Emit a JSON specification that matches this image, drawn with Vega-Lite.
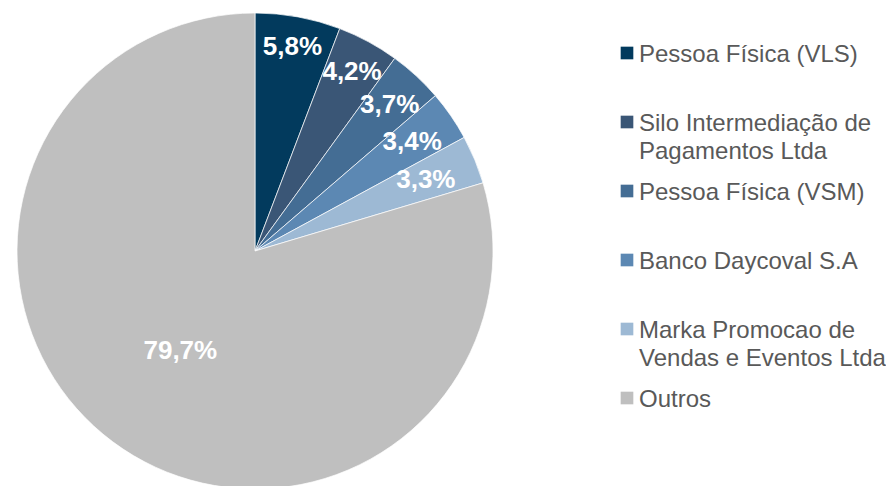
{
  "$schema": "https://vega.github.io/schema/vega-lite/v6.json",
  "padding": 0,
  "background": "white",
  "config": {"view": {"stroke": null}, "font": "Liberation Sans"},
  "data": {"values": [
    {"ord": 1, "cat": "Pessoa Física (VLS)", "pct": 5.8, "pctLabel": "5,8%", "label": "Pessoa Física (VLS)"},
    {"ord": 2, "cat": "Silo Intermediação de Pagamentos Ltda", "pct": 4.2, "pctLabel": "4,2%", "label": "Silo Intermediação de\nPagamentos Ltda"},
    {"ord": 3, "cat": "Pessoa Física (VSM)", "pct": 3.7, "pctLabel": "3,7%", "label": "Pessoa Física (VSM)"},
    {"ord": 4, "cat": "Banco Daycoval S.A", "pct": 3.4, "pctLabel": "3,4%", "label": "Banco Daycoval S.A"},
    {"ord": 5, "cat": "Marka Promocao de Vendas e Eventos Ltda", "pct": 3.3, "pctLabel": "3,3%", "label": "Marka Promocao de\nVendas e Eventos Ltda"},
    {"ord": 6, "cat": "Outros", "pct": 79.7, "pctLabel": "79,7%", "label": "Outros"}
  ]},
  "spacing": 107,
  "hconcat": [
    {
      "width": 510,
      "height": 502,
      "encoding": {
        "theta": {"field": "pct", "type": "quantitative", "stack": true},
        "order": {"field": "ord", "type": "quantitative"}
      },
      "layer": [
        {
          "mark": {"type": "arc", "outerRadius": 238, "stroke": "white", "strokeWidth": 0.7},
          "encoding": {
            "color": {
              "field": "cat", "type": "nominal", "legend": null,
              "scale": {
                "domain": ["Pessoa Física (VLS)", "Silo Intermediação de Pagamentos Ltda", "Pessoa Física (VSM)", "Banco Daycoval S.A", "Marka Promocao de Vendas e Eventos Ltda", "Outros"],
                "range": ["#023a5d", "#3a5676", "#446d94", "#5c88b3", "#9db9d4", "#bfbfbf"]
              }
            }
          }
        },
        {
          "mark": {
            "type": "text", "fontSize": 26, "fontWeight": "bold", "color": "white", "align": "center", "baseline": "middle",
            "radius": {"expr": "datum.ord === 6 ? 125 : datum.ord === 1 ? 207 : datum.ord === 2 ? 204 : datum.ord === 3 ? 199 : datum.ord === 4 ? 191 : 185"}
          },
          "encoding": {
            "text": {"field": "pctLabel"}
          }
        }
      ]
    },
    {
      "width": 20,
      "height": 451,
      "encoding": {
        "y": {
          "field": "cat", "type": "nominal", "axis": null,
          "sort": ["Pessoa Física (VLS)", "Silo Intermediação de Pagamentos Ltda", "Pessoa Física (VSM)", "Banco Daycoval S.A", "Marka Promocao de Vendas e Eventos Ltda", "Outros"],
          "scale": {"type": "point", "padding": 0.768}
        }
      },
      "layer": [
        {
          "mark": {"type": "point", "shape": "square", "size": 160, "filled": true, "opacity": 1},
          "encoding": {"color": {"field": "cat", "type": "nominal", "legend": null}}
        },
        {
          "mark": {"type": "text", "align": "left", "baseline": "top", "dx": 12, "dy": -10, "fontSize": 24, "lineHeight": 28, "lineBreak": "\n", "color": "#595959"},
          "encoding": {"text": {"field": "label"}}
        }
      ]
    }
  ]
}
